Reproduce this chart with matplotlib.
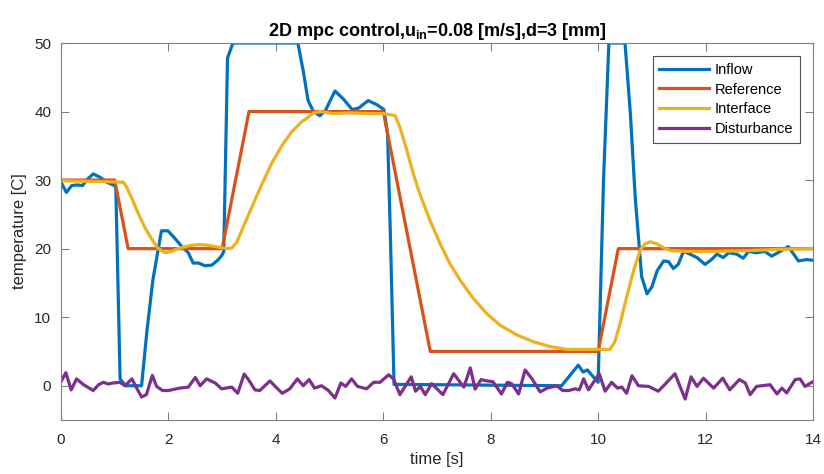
import matplotlib
matplotlib.use('Agg')
import matplotlib.pyplot as plt

# ── data ─────────────────────────────────────────────────────────────────────
inflow_t = [0, 0.1, 0.2, 0.3, 0.4, 0.5, 0.6, 0.73, 0.85, 0.97, 1.02, 1.1, 1.2,
            1.5, 1.6, 1.71, 1.87, 1.99, 2.12, 2.25, 2.37, 2.46, 2.56, 2.68,
            2.81, 2.93, 3.0, 3.03, 3.1, 3.2, 4.41, 4.51, 4.6, 4.7, 4.82, 4.92,
            5.1, 5.26, 5.42, 5.54, 5.72, 5.88, 6.01, 6.08, 6.13, 6.2, 9.32,
            9.63, 9.72, 9.8, 9.91, 10.0, 10.1, 10.2, 10.5, 10.6, 10.69, 10.75,
            10.81, 10.91, 11.0, 11.1, 11.22, 11.31, 11.4, 11.49, 11.59, 11.71,
            11.84, 11.99, 12.11, 12.21, 12.33, 12.43, 12.58, 12.7, 12.8, 12.95,
            13.1, 13.23, 13.39, 13.54, 13.73, 13.88, 14.0]
inflow_v = [29.7, 28.2, 29.2, 29.3, 29.2, 30.2, 30.9, 30.4, 29.7, 29.3, 29.0,
            1.0, 0.0, 0.0, 8.0, 15.4, 22.6, 22.6, 21.5, 20.3, 19.4, 17.9, 17.9,
            17.5, 17.6, 18.4, 19.1, 19.6, 47.8, 50.0, 50.0, 45.9, 41.6, 40.0,
            39.4, 40.1, 43.0, 41.8, 40.3, 40.5, 41.6, 41.0, 40.3, 36.7, 22.6,
            0.2, 0.0, 3.0, 2.0, 2.3, 1.3, 0.5, 30.0, 50.0, 50.0, 39.7, 27.5,
            21.7, 15.9, 13.4, 14.4, 16.8, 18.2, 18.1, 17.1, 17.7, 19.6, 19.2,
            18.7, 17.7, 18.4, 19.2, 18.7, 19.4, 19.2, 18.6, 19.6, 19.4, 19.6,
            18.9, 19.6, 20.3, 18.2, 18.4, 18.3]

ref_t = [0, 1.0, 1.25, 3.0, 3.5, 6.0, 6.875, 10.0, 10.375, 14.0]
ref_v = [30, 30, 20, 20, 40, 40, 5, 5, 20, 20]

iface_t = [0, 1.16, 1.22, 1.32, 1.44, 1.56, 1.69, 1.81, 1.94, 2.06, 2.18, 2.37,
           2.56, 2.74, 2.93, 3.1, 3.18, 3.27, 3.39, 3.55, 3.74, 3.92, 4.11,
           4.29, 4.48, 4.57, 4.7, 4.82, 5.07, 5.38, 5.69, 6.0, 6.22, 6.31, 6.44,
           6.56, 6.68, 6.87, 7.06, 7.24, 7.43, 7.68, 7.93, 8.18, 8.49, 8.8,
           9.11, 9.42, 9.73, 10.22, 10.31, 10.41, 10.53, 10.66, 10.78, 10.87,
           10.97, 11.09, 11.25, 11.37, 11.65, 12.15, 12.77, 13.39, 14.0]
iface_v = [29.9, 29.7, 29.0, 27.3, 25.1, 23.1, 21.4, 20.0, 19.4, 19.6, 20.0,
           20.4, 20.6, 20.5, 20.2, 20.0, 20.1, 20.9, 23.1, 26.0, 29.4, 32.4,
           35.0, 37.0, 38.5, 39.0, 39.8, 40.0, 39.7, 39.8, 39.7, 39.7, 39.4,
           37.7, 34.3, 30.9, 28.0, 24.1, 20.7, 17.8, 15.4, 12.7, 10.5, 8.8,
           7.4, 6.4, 5.7, 5.3, 5.3, 5.3, 6.4, 9.1, 12.9, 16.8, 19.7, 20.7,
           21.0, 20.7, 20.0, 19.7, 19.6, 19.6, 19.7, 19.9, 20.0]

dist_t = [0, 0.09, 0.19, 0.29, 0.42, 0.6, 0.7, 0.79, 0.88, 0.97, 1.1, 1.19,
          1.32, 1.41, 1.5, 1.59, 1.7, 1.78, 1.89, 2.0, 2.21, 2.37, 2.5, 2.59,
          2.71, 2.87, 2.99, 3.18, 3.29, 3.41, 3.49, 3.61, 3.7, 3.89, 4.02,
          4.12, 4.26, 4.4, 4.51, 4.62, 4.72, 4.85, 4.98, 5.1, 5.21, 5.3, 5.41,
          5.52, 5.69, 5.82, 5.94, 6.1, 6.19, 6.31, 6.52, 6.6, 6.69, 6.78, 6.9,
          7.11, 7.31, 7.5, 7.62, 7.71, 7.82, 7.93, 8.04, 8.2, 8.31, 8.39, 8.52,
          8.64, 8.77, 8.92, 9.05, 9.23, 9.34, 9.45, 9.57, 9.65, 9.73, 9.82,
          10.02, 10.13, 10.25, 10.36, 10.44, 10.53, 10.63, 10.75, 10.94, 11.12,
          11.28, 11.43, 11.62, 11.73, 11.84, 11.96, 12.15, 12.32, 12.45, 12.63,
          12.74, 12.83, 12.95, 13.2, 13.33, 13.42, 13.51, 13.67, 13.76, 13.85,
          14.0]
dist_v = [0.6, 1.9, -0.6, 1.0, 0.15, -0.7, 0.15, 0.5, 0.25, 0.4, 0.5, 0.0,
          1.0, -0.35, -1.65, -1.3, 1.5, -0.1, -0.7, -0.7, -0.35, -0.2, 1.2,
          0.0, 1.0, 0.4, -0.45, -0.2, -1.1, 1.7, 0.9, -0.6, -0.7, 0.7, -0.35,
          -1.1, -0.45, 1.0, 0.0, 0.9, -0.35, 0.0, -0.7, -1.8, 0.4, -0.1, 1.0,
          -0.1, -0.45, 0.5, 0.5, 1.6, 1.0, -1.3, 1.3, -0.8, -0.1, -1.3, 0.3,
          -1.3, 1.75, -0.2, 2.6, -0.5, 0.9, 0.7, 0.6, -1.2, 0.5, 0.3, -1.2,
          2.3, 1.0, -0.9, -0.35, 0.0, -0.7, -0.7, -0.45, -0.6, 1.0, -0.6,
          1.75, -0.8, 0.5, -0.35, -0.2, -1.1, 1.45, 0.0, -0.1, -0.8, 0.5,
          1.75, -1.95, 1.3, -0.1, 1.1, -0.35, 1.1, -0.6, 0.9, 0.4, -1.3, -0.1,
          0.15, -1.2, -0.35, -1.05, 0.9, 1.0, -0.1, 0.6]

# MATLAB default colour order
C_BLUE   = '#0072BD'
C_ORANGE = '#D95319'
C_YELLOW = '#EDB120'
C_PURPLE = '#7E2F8E'
AX_GREY  = '#808080'
TXT      = '#262626'

plt.rcParams['font.family'] = ['Liberation Sans', 'DejaVu Sans']

fig = plt.figure(figsize=(8.24, 4.74), dpi=100, facecolor='white')
ax = fig.add_axes([61/824, 54/474, 752/824, 377/474])

lw = 2.3
ax.plot(inflow_t, inflow_v, color=C_BLUE, lw=lw, label='Inflow')
ax.plot(ref_t, ref_v, color=C_ORANGE, lw=lw, label='Reference')
ax.plot(iface_t, iface_v, color=C_YELLOW, lw=lw, label='Interface')
ax.plot(dist_t, dist_v, color=C_PURPLE, lw=lw, label='Disturbance')

ax.set_xlim(0, 14)
ax.set_ylim(-5, 50)
ax.set_xticks(range(0, 15, 2))
ax.set_yticks(range(0, 51, 10))

for s in ax.spines.values():
    s.set_color(AX_GREY)
    s.set_linewidth(0.8)
ax.tick_params(direction='in', length=5.5, width=0.8, color=AX_GREY,
               labelcolor=TXT, labelsize=11, top=True, right=True)
ax.tick_params(axis='x', pad=9)
ax.tick_params(axis='y', pad=7)

ax.set_xlabel('time [s]', fontsize=12, color=TXT, labelpad=4)
ax.set_ylabel('temperature [C]', fontsize=12, color=TXT, labelpad=5)
ax.set_title(r'2D mpc control,u$_{\mathregular{in}}$=0.08 [m/s],d=3 [mm]',
             fontsize=13, fontweight='bold', color='black', pad=5)

leg = ax.legend(loc='upper right', fontsize=10.5, frameon=True, fancybox=False,
                handlelength=3.4, handletextpad=0.4, labelspacing=0.4,
                borderpad=0.45, borderaxespad=0.9)
leg.get_frame().set_edgecolor(TXT)
leg.get_frame().set_linewidth(0.8)

fig.savefig('out.png', dpi=100, facecolor='white')
